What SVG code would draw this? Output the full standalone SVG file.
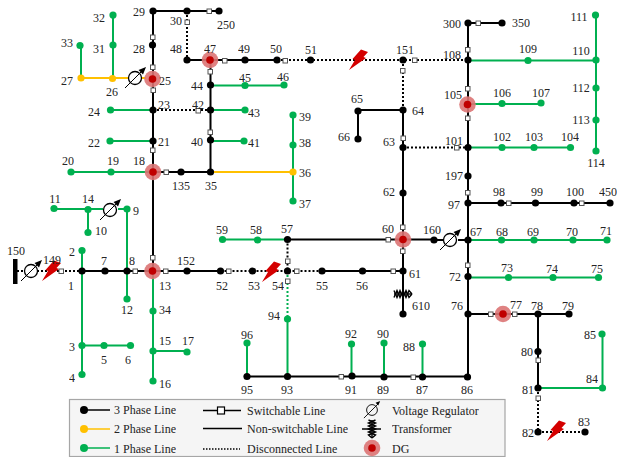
<svg xmlns="http://www.w3.org/2000/svg" width="617" height="457" viewBox="0 0 617 457">
<style>
text{font-family:"Liberation Serif","Times New Roman",serif;font-size:12px;fill:#222;text-anchor:middle;opacity:.99}
.lg{text-anchor:start}
.l{fill:none;stroke-width:2}
.k{stroke:#000}.y{stroke:#ffc000}.g{stroke:#00b050}
.d{stroke-dasharray:2 2}
circle.k{fill:#000;stroke:none}circle.y{fill:#ffc000;stroke:none}circle.g{fill:#00b050;stroke:none}
.s{fill:#fff;stroke:#555;stroke-width:1}
.halo{fill:#dc7474;opacity:.9}.core{fill:#c00000}
.bolt{fill:#d40000}
</style>
<defs>
<rect id="sw" class="s" x="-2" y="-2" width="4.5" height="4.5"/>
<g id="vr"><circle r="6.5" fill="#fff" stroke="#000" stroke-width="1.3"/><path d="M-10 10L7 -7" stroke="#000" stroke-width="1"/><path d="M11 -11L3.500 -8L8 -3.500Z" fill="#000"/></g>
<polygon id="bolt" class="bolt" points="3,-10.500 10,-8 5.500,-3 8,-2 -9,10 -3,0 -5.500,-1"/>
<g id="xf" fill="none" stroke="#000" stroke-width="1.400"><path d="M-9 -3.500l3 7l3 -7l3 7l3 -7l3 7l3 -3.500"/><path d="M-9 3.500l3 -7l3 7l3 -7l3 7l3 -7l3 3.500"/><path d="M-9 0H9"/></g>
<g id="dg"><circle class="halo" r="8.300"/><circle class="core" r="3.800"/></g>
</defs>
<g id="connectors">
<path class="l k" d="M153 11H219M153 11V271M187 60H277M210.500 60V172M153 172H210.500M82 271H220.500M322 271H403M287.500 239.500H434M403 110V314M403 110H358V139M468 23H502M468 23V377M468 203H610M468 314H569M538 314V388M247 376.500H468M434 240H443M458 240H468"/>
<path class="l k d" d="M187 11V60M277 60H468M153 110H210.500M17 271H82M220.500 271H322M287.500 239.500V271M403 60V110M403 147.500H468M538 388V432H585"/>
<path class="l y" d="M81 78H129M210.500 172H293"/>
<path class="l y" d="M142 78H146"/>
<path class="l g" d="M81 78V45.500M113 78V15M153 110H110.500M153 141H110M153 172H71M210.500 85.500H284M210.500 110H245M210.500 141H244M293 115V201M468 60.500H596M596 15V151M468 104H541M468 147.500H570.500M468 240H607M468 277.500H598.500M538 388H602.500V334M54 209H103M118 209H127M88 209V232.500M127 209V299M82 250.500V374.500M82 345.500H130.500M153 271V381M153 351H187M222.500 239.500H287.500M287.500 319V376.500M247 343V376.500M351.500 344V376.500M384 343V376.500M422.500 344V376.500"/>
<path class="l g d" d="M287.500 271V319"/>
<use href="#sw" x="209" y="11"/>
<use href="#sw" x="187" y="22"/>
<use href="#sw" x="152.500" y="37"/>
<use href="#sw" x="152.500" y="67"/>
<use href="#sw" x="153" y="90"/>
<use href="#sw" x="152.500" y="150"/>
<use href="#sw" x="166" y="172"/>
<use href="#sw" x="224.500" y="60.500"/>
<use href="#sw" x="285" y="60.500"/>
<use href="#sw" x="210" y="71.500"/>
<use href="#sw" x="198" y="110.500"/>
<use href="#sw" x="210" y="132"/>
<use href="#sw" x="467.500" y="49.500"/>
<use href="#sw" x="478" y="23"/>
<use href="#sw" x="414.500" y="60"/>
<use href="#sw" x="402.500" y="70.500"/>
<use href="#sw" x="467.500" y="88.500"/>
<use href="#sw" x="467.500" y="118"/>
<use href="#sw" x="403" y="138"/>
<use href="#sw" x="456.500" y="147.500"/>
<use href="#sw" x="467.500" y="192.500"/>
<use href="#sw" x="508.500" y="203"/>
<use href="#sw" x="581.500" y="203"/>
<use href="#sw" x="388" y="239.500"/>
<use href="#sw" x="402.500" y="227"/>
<use href="#sw" x="402.500" y="251"/>
<use href="#sw" x="467.500" y="265"/>
<use href="#sw" x="393" y="271"/>
<use href="#sw" x="490.500" y="314"/>
<use href="#sw" x="514.500" y="314"/>
<use href="#sw" x="538" y="360"/>
<use href="#sw" x="538" y="398"/>
<use href="#sw" x="341" y="376.500"/>
<use href="#sw" x="413" y="377"/>
<use href="#sw" x="61" y="271"/>
<use href="#sw" x="135" y="271"/>
<use href="#sw" x="152.500" y="257.500"/>
<use href="#sw" x="165.500" y="271"/>
<use href="#sw" x="228.500" y="271"/>
<use href="#sw" x="296.500" y="271"/>
<use href="#sw" x="287.500" y="261"/>
<use href="#sw" x="287.500" y="281"/>
</g>
<g id="equipment">
<rect id="source150" x="13" y="259" width="4.500" height="25" fill="#000"/>
<use id="vr-150" href="#vr" x="31" y="271"/>
<use id="vr-25" href="#vr" x="135" y="78"/>
<use id="vr-9" href="#vr" x="110" y="210"/>
<use id="vr-160" href="#vr" x="450" y="240"/>
<use href="#bolt" x="51" y="271"/>
<use href="#bolt" x="358" y="60"/>
<use href="#bolt" x="271" y="272"/>
<use href="#bolt" x="556" y="431"/>
<use id="xf-61" href="#xf" x="403" y="294"/>
</g>
<g id="n29"><circle class="k" cx="153" cy="11" r="3.600"/><text x="139" y="16">29</text></g>
<g id="n30"><circle class="k" cx="187" cy="11" r="3.600"/><text x="176" y="25">30</text></g>
<g id="n250"><circle class="k" cx="219" cy="11" r="3.600"/><text x="226" y="29">250</text></g>
<g id="n28"><circle class="k" cx="152.500" cy="45" r="3.600"/><text x="139" y="53">28</text></g>
<g id="n25"><use href="#dg" x="152.500" y="79"/><text x="165" y="85">25</text></g>
<g id="n23"><circle class="k" cx="153" cy="110" r="3.600"/><text x="164" y="109">23</text></g>
<g id="n21"><circle class="k" cx="153" cy="141" r="3.600"/><text x="164" y="146">21</text></g>
<g id="n18"><use href="#dg" x="153" y="172"/><text x="139" y="165">18</text></g>
<g id="n135"><circle class="k" cx="181" cy="172" r="3.600"/><text x="181" y="190">135</text></g>
<g id="n35"><circle class="k" cx="210.500" cy="172" r="3.600"/><text x="211" y="190">35</text></g>
<g id="n48"><circle class="k" cx="187" cy="60" r="3.600"/><text x="176" y="53">48</text></g>
<g id="n47"><use href="#dg" x="210" y="60"/><text x="210" y="53">47</text></g>
<g id="n49"><circle class="k" cx="245" cy="60" r="3.600"/><text x="244" y="53">49</text></g>
<g id="n50"><circle class="k" cx="277" cy="60" r="3.600"/><text x="276" y="53">50</text></g>
<g id="n51"><circle class="k" cx="310.500" cy="60" r="3.600"/><text x="311" y="54">51</text></g>
<g id="n44"><circle class="k" cx="210.500" cy="85" r="3.600"/><text x="197" y="90">44</text></g>
<g id="n45"><circle class="g" cx="245" cy="85.500" r="3.600"/><text x="245" y="82">45</text></g>
<g id="n46"><circle class="g" cx="284" cy="85" r="3.600"/><text x="283" y="81">46</text></g>
<g id="n42"><circle class="k" cx="210.500" cy="110" r="3.600"/><text x="198" y="109">42</text></g>
<g id="n43"><circle class="g" cx="245" cy="110" r="3.600"/><text x="254" y="117">43</text></g>
<g id="n40"><circle class="k" cx="210.500" cy="140" r="3.600"/><text x="197" y="146">40</text></g>
<g id="n41"><circle class="g" cx="244" cy="141" r="3.600"/><text x="254" y="147">41</text></g>
<g id="n24"><circle class="g" cx="110.500" cy="110" r="3.600"/><text x="94" y="116">24</text></g>
<g id="n22"><circle class="g" cx="110" cy="141" r="3.600"/><text x="94" y="147">22</text></g>
<g id="n20"><circle class="g" cx="71" cy="172" r="3.600"/><text x="68" y="165">20</text></g>
<g id="n19"><circle class="g" cx="111" cy="172" r="3.600"/><text x="113" y="165">19</text></g>
<g id="n32"><circle class="g" cx="113" cy="15" r="3.600"/><text x="99" y="22">32</text></g>
<g id="n31"><circle class="g" cx="113" cy="45" r="3.600"/><text x="99" y="53">31</text></g>
<g id="n26"><circle class="y" cx="112.500" cy="78.500" r="3.600"/><text x="112" y="96">26</text></g>
<g id="n27"><circle class="y" cx="81" cy="78" r="3.600"/><text x="67" y="85">27</text></g>
<g id="n33"><circle class="g" cx="80" cy="45.500" r="3.600"/><text x="67" y="47">33</text></g>
<g id="n39"><circle class="g" cx="293" cy="115" r="3.600"/><text x="305" y="121">39</text></g>
<g id="n38"><circle class="g" cx="293" cy="145" r="3.600"/><text x="305" y="147">38</text></g>
<g id="n36"><circle class="y" cx="293" cy="172" r="3.600"/><text x="305" y="177">36</text></g>
<g id="n37"><circle class="g" cx="293" cy="201" r="3.600"/><text x="305" y="208">37</text></g>
<g id="n300"><circle class="k" cx="468" cy="23" r="3.600"/><text x="452" y="28">300</text></g>
<g id="n350"><circle class="k" cx="502" cy="23" r="3.600"/><text x="521" y="27">350</text></g>
<g id="n151"><circle class="k" cx="403" cy="60" r="3.600"/><text x="405" y="54">151</text></g>
<g id="n108"><circle class="k" cx="468" cy="60" r="3.600"/><text x="452" y="59">108</text></g>
<g id="n109"><circle class="g" cx="528" cy="60.500" r="3.600"/><text x="528" y="53">109</text></g>
<g id="n110"><circle class="g" cx="596" cy="60" r="3.600"/><text x="581" y="55">110</text></g>
<g id="n111"><circle class="g" cx="595.500" cy="15" r="3.600"/><text x="579" y="21">111</text></g>
<g id="n112"><circle class="g" cx="596" cy="88" r="3.600"/><text x="581" y="92">112</text></g>
<g id="n113"><circle class="g" cx="596" cy="120" r="3.600"/><text x="581" y="124">113</text></g>
<g id="n114"><circle class="g" cx="596" cy="151" r="3.600"/><text x="596" y="167">114</text></g>
<g id="n105"><use href="#dg" x="467.500" y="104.500"/><text x="453" y="99">105</text></g>
<g id="n106"><circle class="g" cx="502" cy="103.500" r="3.600"/><text x="502" y="97">106</text></g>
<g id="n107"><circle class="g" cx="541" cy="103" r="3.600"/><text x="541" y="97">107</text></g>
<g id="n101"><circle class="k" cx="468" cy="147.500" r="3.600"/><text x="454" y="145">101</text></g>
<g id="n102"><circle class="g" cx="502" cy="147.500" r="3.600"/><text x="502" y="141">102</text></g>
<g id="n103"><circle class="g" cx="534" cy="147.500" r="3.600"/><text x="534" y="141">103</text></g>
<g id="n104"><circle class="g" cx="570.500" cy="147.500" r="3.600"/><text x="570" y="141">104</text></g>
<g id="n197"><circle class="k" cx="468" cy="176" r="3.600"/><text x="454" y="180">197</text></g>
<g id="n64"><circle class="k" cx="403" cy="110" r="3.600"/><text x="418" y="115">64</text></g>
<g id="n65"><circle class="k" cx="358" cy="111" r="3.600"/><text x="357" y="103">65</text></g>
<g id="n66"><circle class="k" cx="358" cy="139" r="3.600"/><text x="344" y="141">66</text></g>
<g id="n63"><circle class="k" cx="403" cy="147.500" r="3.600"/><text x="389" y="146">63</text></g>
<g id="n62"><circle class="k" cx="403" cy="193" r="3.600"/><text x="389" y="196">62</text></g>
<g id="n97"><circle class="k" cx="468" cy="203" r="3.600"/><text x="454" y="209">97</text></g>
<g id="n98"><circle class="k" cx="501" cy="203" r="3.600"/><text x="499" y="196">98</text></g>
<g id="n99"><circle class="k" cx="535.500" cy="203" r="3.600"/><text x="537" y="196">99</text></g>
<g id="n100"><circle class="k" cx="574" cy="203" r="3.600"/><text x="575" y="196">100</text></g>
<g id="n450"><circle class="k" cx="610" cy="203" r="3.600"/><text x="608" y="196">450</text></g>
<g id="n60"><use href="#dg" x="403" y="239.500"/><text x="388" y="233">60</text></g>
<g id="n160"><circle class="k" cx="434" cy="240" r="3.600"/><text x="432" y="234">160</text></g>
<g id="n67"><circle class="k" cx="468" cy="240" r="3.600"/><text x="476" y="236">67</text></g>
<g id="n68"><circle class="g" cx="501.500" cy="240" r="3.600"/><text x="502" y="236">68</text></g>
<g id="n69"><circle class="g" cx="534" cy="240" r="3.600"/><text x="533" y="236">69</text></g>
<g id="n70"><circle class="g" cx="573" cy="240" r="3.600"/><text x="572" y="236">70</text></g>
<g id="n71"><circle class="g" cx="607" cy="240" r="3.600"/><text x="606" y="235">71</text></g>
<g id="n72"><circle class="k" cx="468" cy="276.500" r="3.600"/><text x="455" y="281">72</text></g>
<g id="n73"><circle class="g" cx="508.500" cy="277.500" r="3.600"/><text x="507" y="272">73</text></g>
<g id="n74"><circle class="g" cx="553" cy="277.500" r="3.600"/><text x="552" y="273">74</text></g>
<g id="n75"><circle class="g" cx="598.500" cy="277.500" r="3.600"/><text x="597" y="273">75</text></g>
<g id="n61"><circle class="k" cx="403" cy="271" r="3.600"/><text x="415" y="278">61</text></g>
<g id="n56"><circle class="k" cx="362.500" cy="271" r="3.600"/><text x="362" y="290">56</text></g>
<g id="n55"><circle class="k" cx="322" cy="271" r="3.600"/><text x="322" y="290">55</text></g>
<g id="n610"><circle class="k" cx="403" cy="314" r="3.600"/><text x="421" y="310">610</text></g>
<g id="n76"><circle class="k" cx="468" cy="314" r="3.600"/><text x="457" y="310">76</text></g>
<g id="n77"><use href="#dg" x="503" y="314"/><text x="516" y="309">77</text></g>
<g id="n78"><circle class="k" cx="538" cy="314" r="3.600"/><text x="537" y="310">78</text></g>
<g id="n79"><circle class="k" cx="569" cy="314" r="3.600"/><text x="568" y="310">79</text></g>
<g id="n80"><circle class="k" cx="538" cy="351.500" r="3.600"/><text x="527" y="356">80</text></g>
<g id="n81"><circle class="k" cx="538" cy="388" r="3.600"/><text x="528" y="394">81</text></g>
<g id="n84"><circle class="g" cx="602.500" cy="388" r="3.600"/><text x="592" y="383">84</text></g>
<g id="n85"><circle class="g" cx="602" cy="334" r="3.600"/><text x="590" y="339">85</text></g>
<g id="n82"><circle class="k" cx="538" cy="432" r="3.600"/><text x="528" y="437">82</text></g>
<g id="n83"><circle class="k" cx="585" cy="432" r="3.600"/><text x="584" y="426">83</text></g>
<g id="n92"><circle class="g" cx="351.500" cy="344" r="3.600"/><text x="351" y="338">92</text></g>
<g id="n90"><circle class="g" cx="384" cy="343" r="3.600"/><text x="383" y="338">90</text></g>
<g id="n88"><circle class="g" cx="422.500" cy="344" r="3.600"/><text x="409" y="351">88</text></g>
<g id="n91"><circle class="k" cx="352" cy="376" r="3.600"/><text x="351" y="394">91</text></g>
<g id="n89"><circle class="k" cx="384" cy="377" r="3.600"/><text x="383" y="394">89</text></g>
<g id="n87"><circle class="k" cx="422.500" cy="377" r="3.600"/><text x="422" y="394">87</text></g>
<g id="n86"><circle class="k" cx="467.500" cy="377" r="3.600"/><text x="467" y="394">86</text></g>
<g id="n95"><circle class="k" cx="247" cy="376.500" r="3.600"/><text x="247" y="394">95</text></g>
<g id="n93"><circle class="k" cx="287.500" cy="376.500" r="3.600"/><text x="287" y="394">93</text></g>
<g id="n96"><circle class="g" cx="247" cy="343" r="3.600"/><text x="247" y="339">96</text></g>
<g id="n94"><circle class="g" cx="287.500" cy="319" r="3.600"/><text x="274" y="320">94</text></g>
<g id="n54"><circle class="k" cx="287.500" cy="271" r="3.600"/><text x="278" y="290">54</text></g>
<g id="n53"><circle class="k" cx="252.500" cy="271" r="3.600"/><text x="254" y="290">53</text></g>
<g id="n52"><circle class="k" cx="220.500" cy="271" r="3.600"/><text x="222" y="290">52</text></g>
<g id="n57"><circle class="k" cx="287.500" cy="239.500" r="3.600"/><text x="287" y="233">57</text></g>
<g id="n58"><circle class="g" cx="257.500" cy="240" r="3.600"/><text x="256" y="234">58</text></g>
<g id="n59"><circle class="g" cx="222.500" cy="239.500" r="3.600"/><text x="222" y="234">59</text></g>
<g id="n152"><circle class="k" cx="187" cy="271" r="3.600"/><text x="186" y="265">152</text></g>
<g id="n13"><use href="#dg" x="152.500" y="271"/><text x="165" y="290">13</text></g>
<g id="n8"><circle class="k" cx="127" cy="271" r="3.600"/><text x="132" y="265">8</text></g>
<g id="n7"><circle class="k" cx="105" cy="271" r="3.600"/><text x="104" y="265">7</text></g>
<g id="n1"><circle class="k" cx="82" cy="271" r="3.600"/><text x="71" y="290">1</text></g>
<g id="n2"><circle class="g" cx="82" cy="250.500" r="3.600"/><text x="72" y="256">2</text></g>
<g id="n3"><circle class="g" cx="82" cy="345.500" r="3.600"/><text x="72" y="351">3</text></g>
<g id="n4"><circle class="g" cx="82" cy="374.500" r="3.600"/><text x="72" y="382">4</text></g>
<g id="n5"><circle class="g" cx="104" cy="345.500" r="3.600"/><text x="104" y="364">5</text></g>
<g id="n6"><circle class="g" cx="130.500" cy="345.500" r="3.600"/><text x="128" y="364">6</text></g>
<g id="n9"><circle class="g" cx="127" cy="209" r="3.600"/><text x="136" y="215">9</text></g>
<g id="n10"><circle class="g" cx="88" cy="232.500" r="3.600"/><text x="101" y="235">10</text></g>
<g id="n11"><circle class="g" cx="54" cy="208.500" r="3.600"/><text x="55" y="203">11</text></g>
<g id="n12"><circle class="g" cx="127" cy="299" r="3.600"/><text x="127" y="314">12</text></g>
<g id="n14"><circle class="g" cx="88" cy="209.500" r="3.600"/><text x="88" y="203">14</text></g>
<g id="n15"><circle class="g" cx="153" cy="351" r="3.600"/><text x="165" y="345">15</text></g>
<g id="n16"><circle class="g" cx="153" cy="381" r="3.600"/><text x="165" y="388">16</text></g>
<g id="n17"><circle class="g" cx="187" cy="352" r="3.600"/><text x="188" y="345">17</text></g>
<g id="n34"><circle class="g" cx="153" cy="311" r="3.600"/><text x="165" y="314">34</text></g>
<g id="n149"><text x="52" y="264">149</text></g>
<g id="n150"><text x="16" y="255">150</text></g>
<g id="legend">
<rect x="69.500" y="399.500" width="435.500" height="57" fill="#f5f5f5" stroke="#a6a6a6" stroke-width="1.200"/>
<path class="l k" d="M84 410H110" style="stroke-width:1.500"/><circle class="k" cx="84" cy="410" r="4"/>
<path class="l y" d="M84 429H110" style="stroke-width:1.500"/><circle class="y" cx="84" cy="429" r="4"/>
<path class="l g" d="M84 448H110" style="stroke-width:1.500"/><circle class="g" cx="84" cy="448" r="4"/>
<text class="lg" x="114" y="414">3 Phase Line</text>
<text class="lg" x="114" y="433">2 Phase Line</text>
<text class="lg" x="114" y="453">1 Phase Line</text>
<path class="l k" d="M203 410.500H241" style="stroke-width:1.500"/><rect x="217.500" y="407" width="7" height="7" fill="#fff" stroke="#000" stroke-width="1.200"/>
<path class="l k" d="M203 428.500H242" style="stroke-width:1.500"/>
<path class="l k" d="M203 449H240" style="stroke-width:1.500;stroke-dasharray:1.500 1.500"/>
<text class="lg" x="247" y="415">Switchable Line</text>
<text class="lg" x="247" y="433">Non-switchable Line</text>
<text class="lg" x="247" y="453">Disconnected Line</text>
<g transform="translate(372 410) scale(.9)"><circle r="6" fill="none" stroke="#000" stroke-width="1"/><path d="M-9 9L8 -8" stroke="#000" stroke-width="1"/><path d="M9 -10L4 -8L7 -5Z" fill="#000"/></g>
<g transform="translate(372 429) rotate(90)"><use href="#xf"/></g>
<path d="M362 429H381" stroke="#000" stroke-width="1.500"/>
<use href="#dg" x="372" y="448"/>
<text class="lg" x="392" y="415">Voltage Regulator</text>
<text class="lg" x="392" y="433">Transformer</text>
<text class="lg" x="392" y="453">DG</text>
</g>
</svg>
